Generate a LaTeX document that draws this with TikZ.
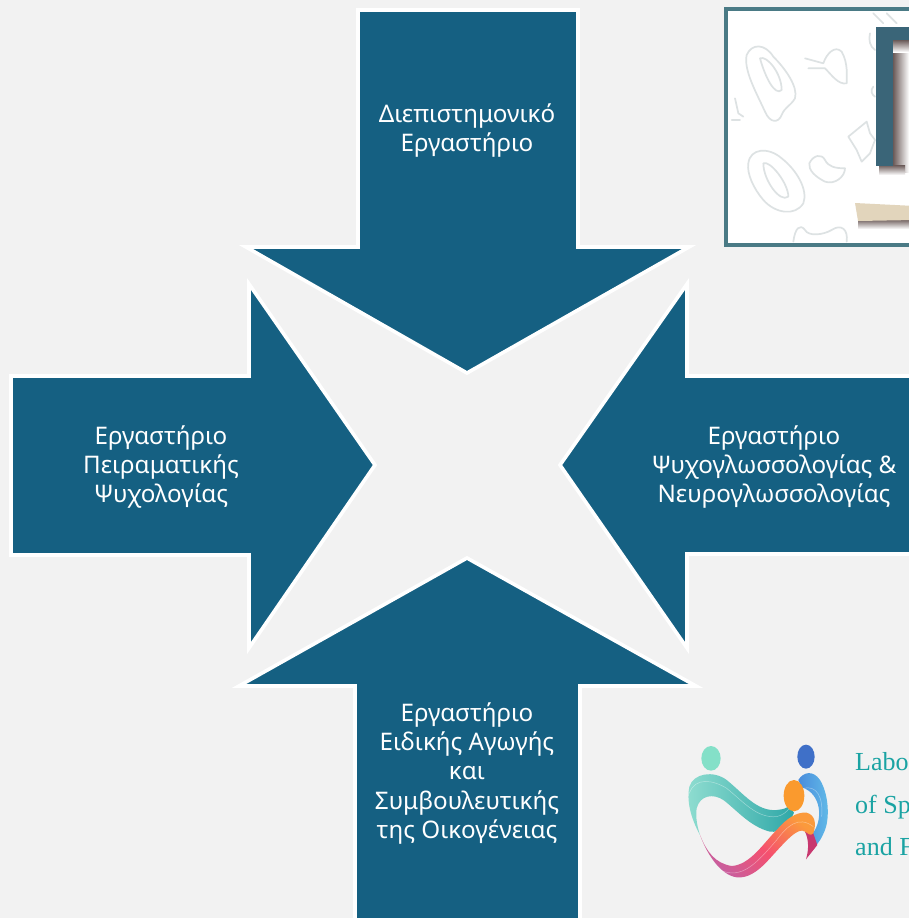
\documentclass[tikz,border=0pt]{standalone}
\usepackage{fontspec}
\setmainfont{Noto Sans}
\newfontfamily\logofont{Liberation Serif}
\usetikzlibrary{calc}
\definecolor{bgc}{HTML}{F2F2F2}
\definecolor{arrowc}{HTML}{156082}
\definecolor{framec}{HTML}{4A7A85}
\definecolor{gammac}{HTML}{3A6578}
\definecolor{sketchc}{HTML}{DDE2E3}
\definecolor{logotext}{HTML}{1AA3A3}
\definecolor{beamc}{HTML}{E2D5BC}
\definecolor{shadowc}{HTML}{6A5A58}
\definecolor{tealA}{HTML}{8FDDD0}
\definecolor{tealB}{HTML}{2FA8A8}
\definecolor{blueA}{HTML}{4A8CDC}
\definecolor{blueB}{HTML}{62BCE8}
\definecolor{pinkA}{HTML}{C65FA0}
\definecolor{redA}{HTML}{F5506E}
\definecolor{orangeA}{HTML}{FB9A3C}
\definecolor{tailc}{HTML}{C8386F}
\definecolor{headgreen}{HTML}{84E0C8}
\definecolor{headblue}{HTML}{3F70C8}
\definecolor{headorange}{HTML}{FA9A2E}
\tikzset{
  bigarrow/.style={fill=arrowc,draw=white,line width=3.6pt,line join=miter,miter limit=10},
  arrowlabel/.style={text=white,align=center,inner sep=0pt,font=\fontsize{24.2}{29.3}\selectfont},
  sketchline/.style={draw=sketchc,line width=1.7pt,line join=round,line cap=round},
  logoline/.style={draw=white,opacity=.4,line width=.5pt},
  logoword/.style={text=logotext,anchor=base west,inner sep=0pt,font=\logofont\fontsize{26}{26}\selectfont}
}
\begin{document}
\begin{tikzpicture}[x=1pt,y=-1pt]
\useasboundingbox (0,0) rectangle (909,918);
\clip (0,0) rectangle (909,918);
\fill[bgc] (0,0) rectangle (909,918);
% top-right picture
\fill[framec] (724,7) rectangle (915,247);
\fill[white] (728,11) rectangle (915,243);
\begin{scope}[shift={(710,0)},x=.3333pt,y=-.3333pt]
  \draw[sketchline] (110,165) .. controls (125,130) and (165,130) .. (190,170) .. controls (225,205) and (265,260) .. (255,295) .. controls (240,320) and (225,320) .. (215,345) .. controls (205,370) and (180,370) .. (165,335) .. controls (140,280) and (100,210) .. (110,165) -- cycle;
  \draw[sketchline] (150,175) .. controls (170,165) and (215,220) .. (215,270) .. controls (195,290) and (165,230) .. (150,175);
  \draw[sketchline] (285,175) -- (340,190) .. controls (350,160) and (375,135) .. (395,155) .. controls (415,190) and (410,230) .. (410,250) .. controls (385,255) and (365,225) .. (345,205) -- (295,205);
  \draw[sketchline] (75,295) -- (85,340) -- (100,350) (65,360) -- (90,360);
  \draw[sketchline] (115,490) .. controls (120,445) and (175,440) .. (215,475) .. controls (260,510) and (295,570) .. (280,610) .. controls (255,650) and (195,640) .. (160,600) .. controls (130,565) and (110,520) .. (115,490) -- cycle;
  \draw[sketchline] (160,490) .. controls (180,480) and (235,550) .. (235,590) .. controls (210,610) and (160,540) .. (160,490);
  \draw[sketchline] (298,490) .. controls (310,465) and (335,460) .. (345,480) .. controls (355,500) and (375,505) .. (405,505) .. controls (405,530) and (375,555) .. (345,545) .. controls (315,530) and (295,510) .. (298,490) -- cycle;
  \draw[sketchline] (415,410) -- (470,365) -- (480,400) -- (495,420) -- (480,460) -- (455,485) -- (440,450) -- cycle;
  \draw[sketchline] (250,725) .. controls (255,685) and (270,670) .. (285,690) .. controls (295,710) and (340,705) .. (365,690) .. controls (395,670) and (415,690) .. (410,725);
  \draw[sketchline] (480,100) .. controls (475,120) and (480,140) .. (495,150) (490,260) .. controls (480,270) and (485,285) .. (495,290);
  \draw[sketchline] (530,40) -- (560,70) (490,40) -- (520,70);
\end{scope}
\shade[left color=shadowc,right color=white] (893,38) rectangle (909,172);
\shade[top color=shadowc,bottom color=white] (879,165) rectangle (905,175);
\shade[top color=shadowc,bottom color=white] (893,40) rectangle (909,52);
\fill[gammac] (876,27) rectangle (893,166);
\fill[gammac] (876,27) rectangle (915,40);
\shade[top color=shadowc,bottom color=white] (858,219) rectangle (915,229);
\fill[beamc] (855,203) -- (915,206) -- (915,220) -- (858,221) -- cycle;
% arrows
\path[bigarrow] (358,10) -- (578,10) -- (578,247) -- (689,247) -- (467,373) -- (246,247) -- (358,247) -- cycle;
\path[bigarrow] (11,376) -- (249,376) -- (249,284) -- (375,465) -- (249,648) -- (249,555) -- (11,555) -- cycle;
\path[bigarrow] (925,376) -- (687,376) -- (687,284) -- (560,465) -- (687,648) -- (687,554) -- (925,554) -- cycle;
\path[bigarrow] (355,930) -- (355,686) -- (239,686) -- (467,558) -- (696,686) -- (580,686) -- (580,930) -- cycle;
% labels
\node[arrowlabel] (top) at (467,130.5) {Διεπιστημονικό\\Εργαστήριο};
\node[arrowlabel] (left) at (161,467) {Εργαστήριο\\Πειραματικής\\Ψυχολογίας};
\node[arrowlabel] (right) at (774,467) {Εργαστήριο\\Ψυχογλωσσολογίας \&\\Νευρογλωσσολογίας};
\node[arrowlabel] (bottom) at (467,773.5) {Εργαστήριο\\Ειδικής Αγωγής\\και\\Συμβουλευτικής\\της Οικογένειας};
% logo
\begin{scope}[shift={(670,730)},x=.3333pt,y=-.3333pt]
  \shade[left color=blueA,right color=blueB] (385,150) .. controls (400,125) and (430,120) .. (450,150) .. controls (475,190) and (480,260) .. (465,300) .. controls (455,325) and (445,340) .. (438,345) -- (428,310) .. controls (460,270) and (455,190) .. (395,172) -- cycle;
  \shade[left color=tealA,right color=tealB] (90,315) .. controls (60,260) and (50,210) .. (58,170) .. controls (70,130) and (130,120) .. (170,150) .. controls (220,190) and (260,245) .. (320,240) .. controls (340,238) and (350,235) .. (355,228) -- (372,248) .. controls (360,280) and (330,310) .. (300,305) .. controls (240,290) and (200,240) .. (160,210) .. controls (130,190) and (90,195) .. (80,235) .. controls (75,265) and (85,300) .. (90,315) -- cycle;
  \fill[tailc] (428,305) -- (442,345) -- (408,388) .. controls (418,355) and (415,325) .. (405,305) -- cycle;
  \shade[bottom color=pinkA,top color=orangeA,middle color=redA,shading angle=-40] (90,315) .. controls (110,365) and (135,400) .. (185,408) .. controls (240,405) and (280,340) .. (320,300) .. controls (350,265) and (380,245) .. (410,248) .. controls (435,255) and (440,280) .. (430,310) .. controls (420,320) and (415,310) .. (405,305) .. controls (385,290) and (350,330) .. (300,385) .. controls (260,430) and (230,445) .. (200,442) .. controls (150,435) and (110,370) .. (90,315) -- cycle;
  \draw[logoline] (58,190) .. controls (75,140) and (130,150) .. (170,175) .. controls (220,215) and (260,265) .. (320,260) .. controls (340,255) and (350,245) .. (358,235);
  \draw[logoline] (400,175) .. controls (440,165) and (460,200) .. (455,260);
  \draw[logoline] (150,420) .. controls (215,450) and (260,400) .. (320,330) .. controls (350,290) and (385,255) .. (430,290);
  \fill[headgreen] (123,85) ellipse [x radius=29,y radius=37];
  \fill[headblue] (408,80) ellipse [x radius=26,y radius=36];
  \fill[headorange] (372,197) ellipse [x radius=31,y radius=47];
\end{scope}
\node[logoword] (l1) at (855,770) {Labo};
\node[logoword] (l2) at (855,813) {of Sp};
\node[logoword] (l3) at (855,855) {and F};
\end{tikzpicture}
\end{document}
